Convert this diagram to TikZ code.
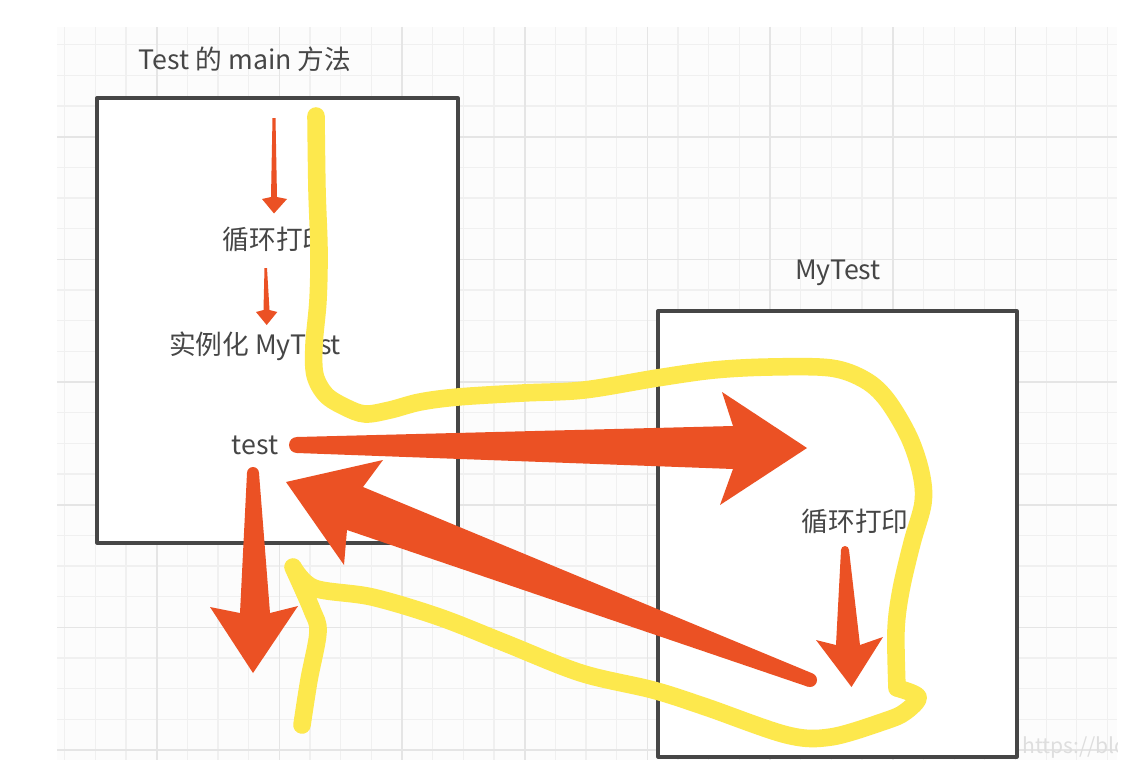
\documentclass[tikz,border=0pt]{standalone}
\usepackage{fontspec}
\setmainfont{Noto Sans CJK SC}
\definecolor{penred}{RGB}{235,81,36}
\definecolor{penyellow}{RGB}{253,232,77}
\definecolor{inkgray}{RGB}{70,70,70}

\begin{document}
\begin{tikzpicture}[x=.025cm,y=-.025cm,line join=round,
  box/.style={draw=inkgray,line width=2.3pt,fill=white},
  lbl/.style={text=inkgray,font=\fontsize{19}{22}\selectfont,inner sep=0pt},
  pen/.style={fill=penred},
  hl/.style={draw=penyellow,line width=12.5pt,line cap=round,line join=round}]
\useasboundingbox (0,0) rectangle (1131,775);
\fill[black!1] (57,27) rectangle (1117,760);
\foreach \i in {0,...,34}
  \draw[black!6,line width=.9pt] ({64.7+30.67*\i},27)--++(0,733);
\foreach \j in {0,...,23}
  \draw[black!6,line width=.9pt] (57,{44.7+30.67*\j})--++(1060,0);
\foreach \i in {3,7,...,31}
  \draw[black!10,line width=1.2pt] ({64.7+30.67*\i},27)--++(0,733);
\foreach \j in {3,7,...,23}
  \draw[black!10,line width=1.2pt] (57,{44.7+30.67*\j})--++(1060,0);
\draw[box] (97,98) rectangle (458,543);
\draw[box] (658,311) rectangle (1017,757);
\node[lbl] (maintitle) at (245,59) {Test 的 main 方法};
\node[lbl] (mytitle) at (838,273) {MyTest};
\node[lbl] (loopa) at (276,239) {循环打印};
\node[lbl] (newobj) at (255,346) {实例化 MyTest};
\node[lbl] (callt) at (255,445) {test};
\node[lbl] (loopb) at (855,521) {循环打印};
\begin{scope}
\clip (1000,730) rectangle (1117,765);
\node[text=black!13,font=\fontsize{15}{18}\selectfont,anchor=west,inner sep=0pt] (mark) at (1022,748) {https://blo};
\end{scope}
\fill[pen] (272.5,118)--(271,197)--(262,199)--(274,213.5)--(287,199)--(277,197)--(275.5,118)--cycle;
\fill[pen] (264.5,268)--(263.5,310)--(256,312)--(266.7,325)--(277.3,312)--(269.5,310)--(267,268)--cycle;
\fill[pen] (297,437)--(733,426)--(722,392)--(807,448)--(720,505)--(733,469)--(297,453)--cycle;
\fill[pen] (297,445) circle[radius=8];
\fill[pen] (812.5,673.4)--(363,487)--(383,460)--(286,482)--(344,565)--(347,530)--(807.5,686.6)--cycle;
\fill[pen] (810,680) circle[radius=7];
\fill[pen] (247,473)--(240,613)--(210,607)--(253,673)--(298,606)--(270,613)--(259,473)--cycle;
\fill[pen] (253,473) circle[radius=6];
\fill[pen] (841,550)--(836,645)--(816,640)--(851.5,687)--(883,637)--(860,645)--(849,550)--cycle;
\fill[pen] (845,550) circle[radius=4];
\draw[hl] plot[smooth,tension=.55] coordinates {(316,116) (317,190) (319,250) (318,300) (314,345) (315,375) (326,395) (345,407) (365,414) (390,410) (420,402) (458,397) (523,393) (584,390) (657,378) (714,370) (770,367) (831,368) (865,380) (887,400) (909,437) (921,473) (923,503) (912,543) (901,590) (896,630) (897,688)}
  -- plot[smooth,tension=.55] coordinates {(897,688) (918,697) (905,712) (885,721) (831,737) (787,735) (706,707) (653,690) (581,673) (505,643) (439,617) (372,597) (314,588) (293,567)}
  -- plot[smooth,tension=.55] coordinates {(293,567) (312,610) (318,632) (309,680) (302,725)};
\end{tikzpicture}
\end{document}
